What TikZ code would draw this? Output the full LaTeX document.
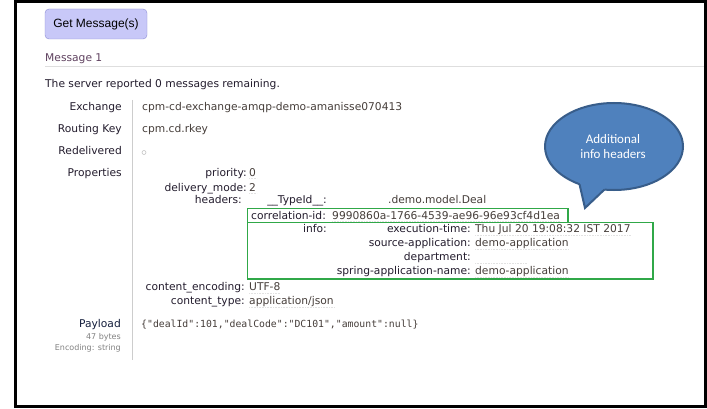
\documentclass[tikz,border=0pt]{standalone}
\usepackage{fontspec}
\setmainfont{DejaVu Sans}
\setmonofont{DejaVu Sans Mono}
\newfontfamily\btnfont{Liberation Sans}
\newfontfamily\calfont{Carlito}
\definecolor{labelc}{RGB}{35,28,45}
\definecolor{valc}{RGB}{70,62,58}
\definecolor{msgc}{RGB}{95,65,95}
\definecolor{sepc}{RGB}{222,222,222}
\definecolor{vlinec}{RGB}{205,205,205}
\definecolor{greenc}{RGB}{48,168,72}
\definecolor{bfill}{RGB}{79,129,189}
\definecolor{bdraw}{RGB}{56,93,138}
\definecolor{btnfill}{RGB}{200,200,248}
\definecolor{btndraw}{RGB}{140,140,212}
\definecolor{subc}{RGB}{130,130,130}
\definecolor{ulc}{RGB}{226,226,226}
\tikzset{
  txt/.style={inner sep=0pt, font=\fontsize{10.7}{12}\selectfont},
  lbl/.style={txt, anchor=base east, text=labelc},
  val/.style={txt, anchor=base west, text=valc},
  greenbox/.style={draw=greenc, line width=1.3pt},
  uline/.style={draw=ulc, line width=0.6pt, densely dotted},
}
\begin{document}
\begin{tikzpicture}[x=1pt,y=-1pt]
\useasboundingbox (0,0) rectangle (707,409);
\fill[white] (0,0) rectangle (707,409);
\draw[line width=3pt] (15,1.5) rectangle (705.5,406.5);
% button
\node[draw=btndraw, fill=btnfill, rounded corners=4pt, minimum width=102pt, minimum height=30pt, inner sep=0pt, font=\btnfont\fontsize{12}{14}\selectfont] (getbtn) at (96,24) {Get Message(s)};
% header
\node[txt, anchor=base west, text=msgc] (msg1) at (45,62) {Message 1};
\draw[sepc, line width=1pt] (45,66.5) -- (704,66.5);
\node[txt, anchor=base west, text=labelc] (server) at (45,88) {The server reported 0 messages remaining.};
% vertical separator
\draw[vlinec, line width=1pt] (132,100) -- (132,360);
% main labels
\node[lbl] (lexch) at (122,111) {Exchange};
\node[val] (vexch) at (142,111) {cpm-cd-exchange-amqp-demo-amanisse070413};
\node[lbl] (lrk) at (122,133) {Routing Key};
\node[val] (vrk) at (142,133) {cpm.cd.rkey};
\node[lbl] (lred) at (122,155) {Redelivered};
\draw[draw={rgb,255:red,195;green,195;blue,195}, line width=0.6pt] (144,152.5) circle (2pt);
\node[lbl] (lprop) at (122,176) {Properties};
% properties
\node[lbl] (lprio) at (247,176) {priority:};
\node[val] (vprio) at (249,176) {0};
\node[lbl] (ldm) at (247,191) {delivery\_mode:};
\node[val] (vdm) at (249,191) {2};
\node[lbl] (lhead) at (242,204) {headers:};
\node[lbl] (ltype) at (327,204) {\_\_TypeId\_\_:};
\node[val] (vtype) at (388,204) {.demo.model.Deal};
\node[txt, anchor=base west, text=labelc] (lcorr) at (251,219) {correlation-id:};
\node[val] (vcorr) at (332,219) {9990860a-1766-4539-ae96-96e93cf4d1ea};
\node[lbl] (linfo) at (327,232.3) {info:};
\node[lbl] (lexec) at (471,232.3) {execution-time:};
\node[val] (vexec) at (475,232.3) {Thu Jul 20 19:08:32 IST 2017};
\node[lbl] (lsrc) at (471,246.3) {source-application:};
\node[val] (vsrc) at (475,246.3) {demo-application};
\node[lbl] (ldept) at (471,260.3) {department:};
\node[lbl] (lspring) at (471,274.3) {spring-application-name:};
\node[val] (vspring) at (475,274.3) {demo-application};
\node[lbl] (lenc) at (245,290) {content\_encoding:};
\node[val] (venc) at (249,290) {UTF-8};
\node[lbl] (lctype) at (245,304) {content\_type:};
\node[val] (vctype) at (249,304) {application/json};
% value underlines
\draw[uline] (249,178.5) -- (257,178.5);
\draw[uline] (249,193.5) -- (257,193.5);
\draw[uline] (332,221) -- (vcorr.south east |- 0,221);
\draw[uline] (475,235) -- (vexec.south east |- 0,235);
\draw[uline] (475,249) -- (vsrc.south east |- 0,249);
\draw[uline] (475,263) -- (527,263);
\draw[uline] (475,277) -- (vspring.south east |- 0,277);
\draw[uline] (249,293) -- (venc.south east |- 0,293);
\draw[uline] (249,307) -- (vctype.south east |- 0,307);
% green boxes
\draw[greenbox] (247.7,208.5) rectangle (568,222.7);
\draw[greenbox] (247.7,222.7) rectangle (653,279);
% payload
\node[lbl, text={rgb,255:red,20;green,30;blue,60}] (lpay) at (121,327) {Payload};
\node[inner sep=0pt, anchor=base east, text=subc, font=\fontsize{8}{9}\selectfont] (lbytes) at (121,339) {47 bytes};
\node[inner sep=0pt, anchor=base east, text=subc, font=\fontsize{8}{9}\selectfont] (lencs) at (121,350) {Encoding: string};
\node[inner sep=0pt, anchor=base west, text=valc, font=\ttfamily\fontsize{9.8}{11}\selectfont] (vpay) at (141,327) {\{"dealId":101,"dealCode":"DC101","amount":null\}};
% speech bubble
\coordinate (bc) at (614,146.5);
\coordinate (tip) at (585,208);
\path (bc) ++(240:69pt and 43.5pt) coordinate (tl);
\path (bc) ++(262:69pt and 43.5pt) coordinate (tr);
\path (bc) ++(240:62pt and 37pt) coordinate (tli);
\path (bc) ++(262:62pt and 37pt) coordinate (tri);
\draw[draw=bdraw, fill=bfill, line width=2pt] (bc) ellipse [x radius=69pt, y radius=43.5pt];
\fill[bfill] (tli) -- (tl) -- (tip) -- (tr) -- (tri) -- cycle;
\draw[draw=bdraw, line width=2pt, line join=miter] (tl) -- (tip) -- (tr);
\node[inner sep=0pt, anchor=base, text=white, font=\calfont\fontsize{13}{15}\selectfont] (btxt1) at (613,144) {Additional};
\node[inner sep=0pt, anchor=base, text=white, font=\calfont\fontsize{13}{15}\selectfont] (btxt2) at (613,159) {info headers};
\end{tikzpicture}
\end{document}
